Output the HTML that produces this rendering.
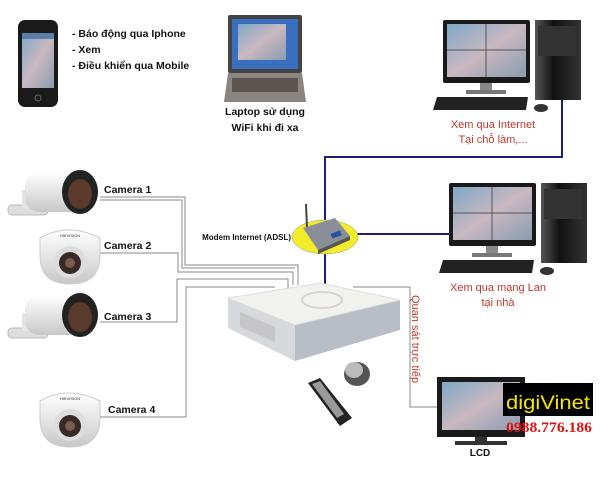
<!DOCTYPE html>
<html><head><meta charset="utf-8"><style>
html,body{margin:0;padding:0;background:#fff;width:600px;height:485px;overflow:hidden}
svg{display:block}
text{font-family:"Liberation Sans",sans-serif}
</style></head><body>
<svg width="600" height="485" viewBox="0 0 600 485" xmlns="http://www.w3.org/2000/svg">
<defs>
<linearGradient id="scr" x1="0" y1="0" x2="1" y2="1"><stop offset="0" stop-color="#7fa8c8"/><stop offset="0.5" stop-color="#c9b8c0"/><stop offset="1" stop-color="#8a9cb0"/></linearGradient>
<linearGradient id="body" x1="0" y1="0" x2="0" y2="1"><stop offset="0" stop-color="#ffffff"/><stop offset="1" stop-color="#c8c8c8"/></linearGradient>
<linearGradient id="tower" x1="0" y1="0" x2="1" y2="0"><stop offset="0" stop-color="#555"/><stop offset="0.4" stop-color="#111"/><stop offset="1" stop-color="#333"/></linearGradient>
</defs>

<!-- phone -->
<rect x="18" y="20" width="40" height="87" rx="7" fill="#1a1a1a"/>
<rect x="22" y="33" width="32" height="55" fill="url(#scr)"/>
<rect x="22" y="33" width="32" height="6" fill="#5a7fa6"/>
<circle cx="38" cy="98" r="3" fill="none" stroke="#666"/>
<text x="72" y="37" font-size="10.5" font-weight="bold" fill="#111">- Báo động qua Iphone</text>
<text x="72" y="53" font-size="10.5" font-weight="bold" fill="#111">- Xem</text>
<text x="72" y="69" font-size="10.5" font-weight="bold" fill="#111">- Điều khiển qua Mobile</text>

<!-- laptop -->
<rect x="228" y="15" width="74" height="58" rx="2" fill="#444"/>
<rect x="232" y="19" width="66" height="50" fill="#3a6fc0"/>
<rect x="238" y="24" width="48" height="36" fill="url(#scr)"/>
<polygon points="228,73 302,73 306,102 224,102" fill="#8a8580"/>
<rect x="232" y="78" width="66" height="14" fill="#5a5550"/>
<text x="265" y="115" font-size="10.5" font-weight="bold" fill="#111" text-anchor="middle">Laptop sử dụng</text>
<text x="265" y="131" font-size="10.5" font-weight="bold" fill="#111" text-anchor="middle">WiFi khi đi xa</text>

<!-- PC group -->
<g id="pc">
<rect x="443" y="20" width="87" height="63" rx="2" fill="#1a1a1a"/>
<rect x="447" y="24" width="79" height="53" fill="url(#scr)"/>
<line x1="486" y1="24" x2="486" y2="77" stroke="#555"/><line x1="447" y1="50" x2="526" y2="50" stroke="#555"/>
<rect x="480" y="83" width="12" height="8" fill="#888"/>
<rect x="466" y="90" width="40" height="4" fill="#777"/>
<rect x="535" y="20" width="46" height="80" fill="url(#tower)"/>
<rect x="538" y="26" width="38" height="30" fill="#333"/>
<polygon points="437,97 528,97 526,110 433,110" fill="#222"/>
<ellipse cx="541" cy="108" rx="7" ry="4" fill="#333"/>
</g>
<text x="493" y="128" font-size="11" fill="#c0392b" text-anchor="middle">Xem qua Internet</text>
<text x="493" y="143" font-size="11" fill="#c0392b" text-anchor="middle">Tại chỗ làm,...</text>
<use href="#pc" transform="translate(6,163)"/>
<text x="498" y="291" font-size="11" fill="#c0392b" text-anchor="middle">Xem qua mạng Lan</text>
<text x="498" y="306" font-size="11" fill="#c0392b" text-anchor="middle">tại nhà</text>

<!-- blue lines -->
<polyline points="562,100 562,157 325,157 325,284" fill="none" stroke="#1e1e78" stroke-width="2"/>
<line x1="325" y1="234" x2="450" y2="234" stroke="#1e1e78" stroke-width="2"/>

<!-- modem -->
<ellipse cx="325" cy="237" rx="33" ry="17" fill="#f2ec2a" stroke="#999" stroke-width="0.5"/>
<line x1="306" y1="204" x2="307" y2="228" stroke="#444" stroke-width="2"/>
<polygon points="303,228 335,218 350,236 318,250" fill="#8a8e98"/>
<polygon points="318,250 350,236 350,240 318,254" fill="#555"/>
<rect x="331" y="232" width="10" height="5" fill="#2a4f9a" transform="rotate(-20 336 234)"/>
<text x="291" y="240" font-size="8" font-weight="bold" fill="#111" text-anchor="end">Modem Internet (ADSL)</text>

<!-- gray camera lines -->
<g fill="none" stroke="#8a8a8a" stroke-width="1">
<polyline points="100,197 185,197 185,265 298,265 298,285"/>
<polyline points="100,200 182,200 182,268 295,268"/>
<polyline points="100,253 178,253 178,272 293,272 293,285"/>
<polyline points="100,322 177,322 177,279 288,279 288,290"/>
<polyline points="100,417 186,417 186,287 275,287"/>
<polyline points="353,287 410,287 410,407 437,407"/>
</g>

<!-- cameras -->
<g id="bullet">
<rect x="8" y="205" width="40" height="10" rx="4" fill="#ddd" stroke="#bbb"/>
<rect x="22" y="190" width="12" height="18" fill="#e4e4e4"/>
<rect x="25" y="172" width="65" height="40" rx="14" fill="url(#body)"/>
<ellipse cx="80" cy="192" rx="18" ry="22" fill="#222"/>
<ellipse cx="80" cy="194" rx="12" ry="15" fill="#5a3a2a"/>
</g>
<use href="#bullet" transform="translate(0,123)"/>
<g id="dome">
<path d="M40,238 Q68,222 100,238 L100,255 Q100,284 70,284 Q40,284 40,255Z" fill="url(#body)" stroke="#ccc"/>
<circle cx="70" cy="262" r="16" fill="#ddd"/>
<circle cx="70" cy="263" r="11" fill="#3a2a26"/>
<circle cx="70" cy="263" r="5" fill="#7a5a50"/>
<text x="70" y="237" font-size="4" fill="#333" text-anchor="middle">HIKVISION</text>
</g>
<use href="#dome" transform="translate(0,163)"/>
<text x="104" y="193" font-size="10.5" font-weight="bold" fill="#111">Camera 1</text>
<text x="104" y="249" font-size="10.5" font-weight="bold" fill="#111">Camera 2</text>
<text x="104" y="320" font-size="10.5" font-weight="bold" fill="#111">Camera 3</text>
<text x="108" y="413" font-size="10.5" font-weight="bold" fill="#111">Camera 4</text>

<!-- DVR -->
<polygon points="228,298 295,325 295,361 228,328" fill="#d6d8dc"/>
<polygon points="295,325 400,300 400,330 295,361" fill="#b9bec6"/>
<polygon points="228,298 320,283 400,300 295,325" fill="#f1f1ee" stroke="#ddd"/>
<ellipse cx="322" cy="300" rx="20" ry="8" fill="none" stroke="#d5d5d0" stroke-width="2"/>
<polygon points="240,312 275,327 275,342 240,327" fill="#bbb" opacity="0.6"/>

<!-- remote & mouse -->
<polygon points="308,383 320,378 352,418 340,426" fill="#222"/>
<polygon points="312,384 320,381 344,414 337,418" fill="#999"/>
<ellipse cx="357" cy="374" rx="13" ry="12" fill="#555"/>
<ellipse cx="354" cy="370" rx="9" ry="8" fill="#bbb"/>

<text x="0" y="0" font-size="11" fill="#c0392b" transform="translate(412,295) rotate(90)">Quan sát trực tiếp</text>

<!-- LCD -->
<rect x="437" y="377" width="88" height="60" fill="#1a1a1a"/>
<rect x="442" y="382" width="78" height="48" fill="url(#scr)"/>
<rect x="475" y="437" width="12" height="5" fill="#333"/>
<rect x="455" y="441" width="52" height="4" fill="#333"/>
<text x="480" y="456" font-size="10" font-weight="bold" fill="#111" text-anchor="middle">LCD</text>

<!-- logo -->
<rect x="503" y="383" width="90" height="33" fill="#000"/>
<text x="506" y="409" font-size="19" fill="#f5e600" textLength="84" lengthAdjust="spacingAndGlyphs">digiVinet</text>
<text x="506" y="432" font-size="15" font-weight="bold" fill="#e01010" textLength="86" lengthAdjust="spacingAndGlyphs" style="font-family:'Liberation Serif',serif">0988.776.186</text>
</svg>
</body></html>
